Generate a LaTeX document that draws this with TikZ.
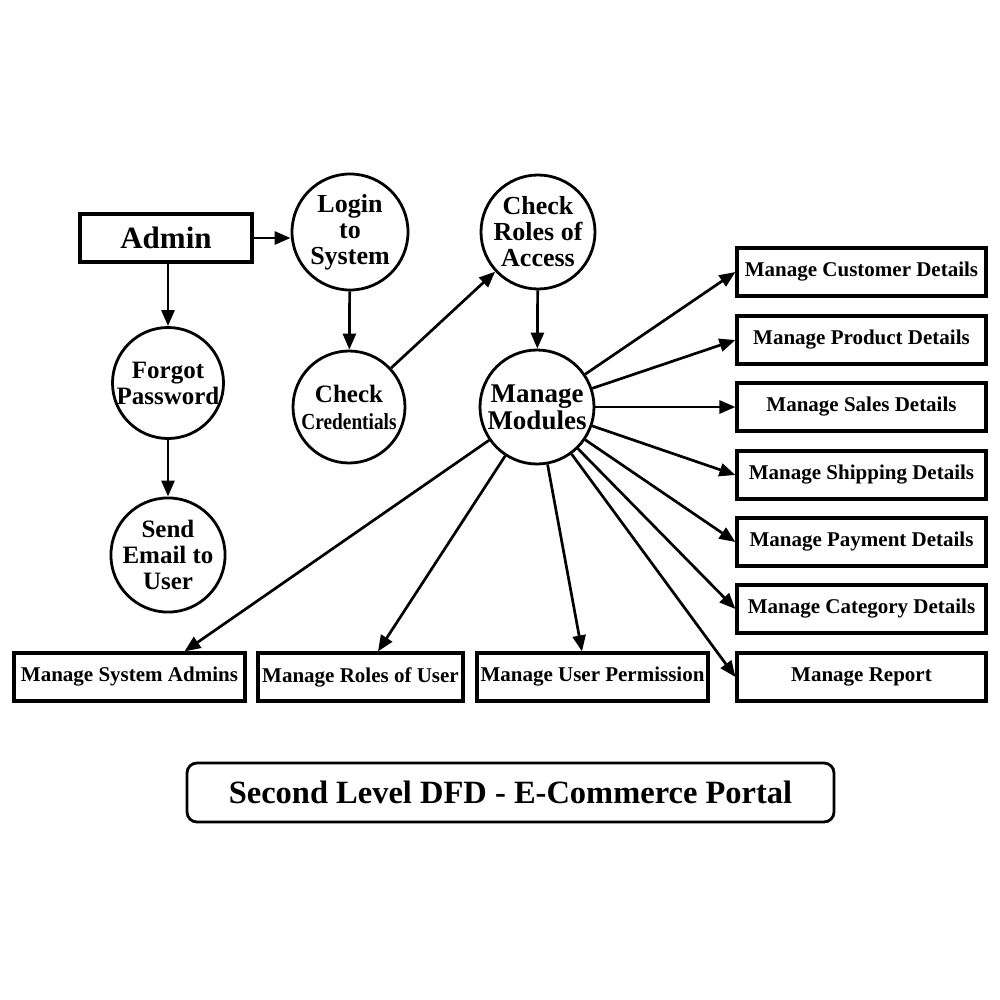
\documentclass[tikz,border=0pt]{standalone}
\usepackage{fontspec}
\setmainfont{Liberation Serif}
\usetikzlibrary{arrows.meta}
\begin{document}
\begin{tikzpicture}[x=1pt,y=-1pt,
  proc/.style={circle,draw,line width=2.8pt,inner sep=0pt,align=center,
    font=\bfseries\fontsize{26}{26}\selectfont},
  ent/.style={rectangle,draw,line width=3.2pt,inner sep=0pt,minimum height=48pt},
  rbox/.style={ent,minimum width=249pt,font=\bfseries\fontsize{21}{24}\selectfont},
  bbox/.style={ent,font=\bfseries\fontsize{21}{24}\selectfont},
  flow/.style={line width=2.7pt,-{Triangle[length=16pt,width=13pt]}}]
\useasboundingbox (0,0) rectangle (1000,1000);
\fill[white] (0,0) rectangle (1000,1000);

% processes
\node[ent,minimum width=172pt,font=\bfseries\fontsize{31}{31}\selectfont] (admin) at (166,238) {Admin};
\node[proc,minimum size=116pt] (login) at (350,232) {Login\\to\\System};
\node[proc,minimum size=114pt] (roles) at (538,232) {Check\\Roles of\\Access};
\node[proc,minimum size=110pt,font=\bfseries\fontsize{25}{26}\selectfont] (forgot) at (168,383) {Forgot\\Password};
\node[proc,minimum size=112pt,font=\bfseries\fontsize{25}{27}\selectfont] (cred) at (349,407) {Check\\\scalebox{0.84}[1]{\fontsize{23}{26}\selectfont Credentials}};
\node[proc,minimum size=114pt,font=\bfseries\fontsize{27}{27}\selectfont] (mm) at (537,407) {Manage\\Modules};
\node[proc,minimum size=110pt,font=\bfseries\fontsize{25}{26}\selectfont] (send) at (168,555) {Send\\Email to\\User};

% right boxes
\node[rbox] (cust) at (861.5,272) {Manage Customer Details};
\node[rbox] (prod) at (861.5,340) {Manage Product Details};
\node[rbox] (sales) at (861.5,407) {Manage Sales Details};
\node[rbox] (ship) at (861.5,475) {Manage Shipping Details};
\node[rbox] (pay) at (861.5,542) {Manage Payment Details};
\node[rbox] (cat) at (861.5,609) {Manage Category Details};
\node[rbox] (rep) at (861.5,677) {Manage Report};

% bottom boxes
\node[bbox,minimum width=231pt] (sa) at (129.5,677) {Manage System Admins};
\node[bbox,minimum width=205pt] (ru) at (360.5,677) {Manage Roles of User};
\node[bbox,minimum width=231pt] (up) at (592.5,677) {Manage User Permission};

% title
\node[draw,line width=2.8pt,rounded corners=10pt,minimum width=647pt,minimum height=59pt,inner sep=0pt,
  font=\bfseries\fontsize{32.5}{33}\selectfont] (title) at (510.5,792.5) {Second Level DFD - E-Commerce Portal};

% flows
\draw[flow] (admin.east) -- (admin.east -| login.west);
\draw[flow] (admin.south -| forgot.north) -- (forgot.north);
\draw[flow] (forgot) -- (send);
\draw[flow] (login) -- (cred);
\draw[flow] (cred) -- (roles);
\draw[flow] (roles) -- (mm);
\foreach \b in {cust,prod,sales,ship,pay,cat,rep}
  \draw[flow] (mm) -- (\b.west);
\draw[flow] (mm) -- ([xshift=55pt]sa.north);
\draw[flow] (mm) -- ([xshift=17.5pt]ru.north);
\draw[flow] (mm) -- ([xshift=-10.5pt]up.north);
\end{tikzpicture}
\end{document}
